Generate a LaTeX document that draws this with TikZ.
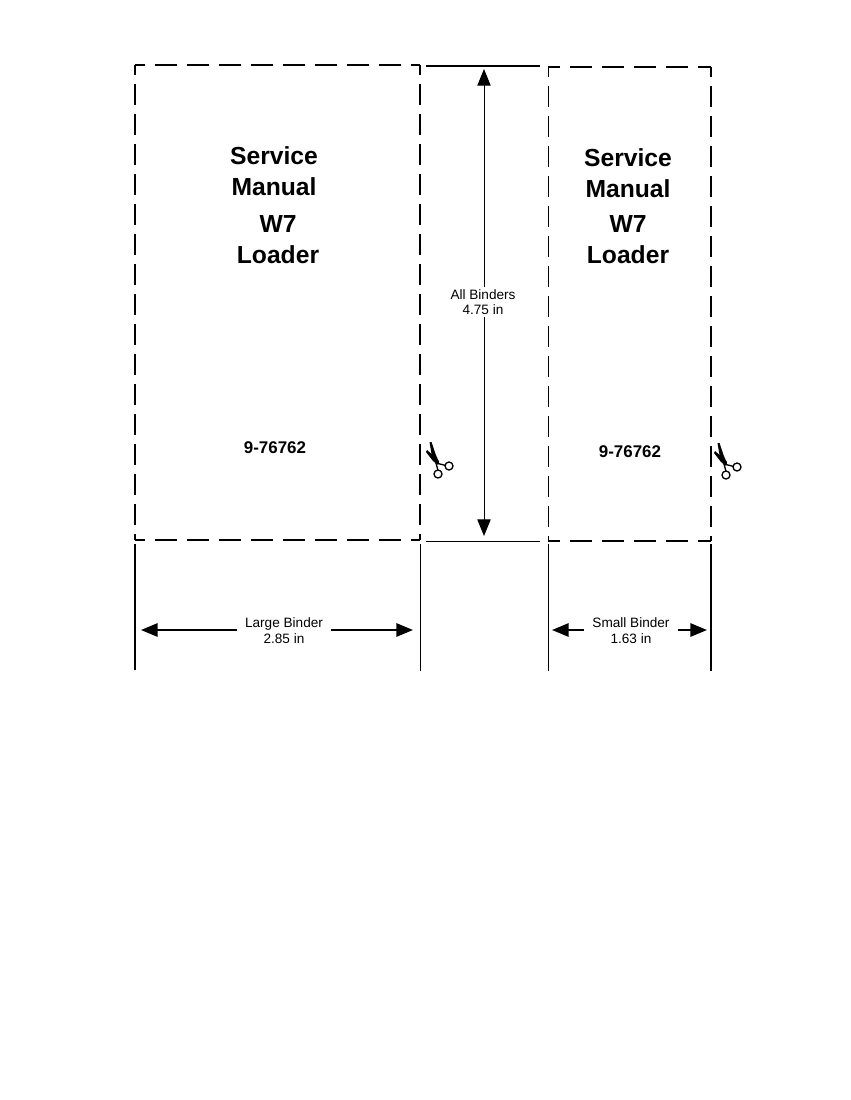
\documentclass[tikz,border=0pt]{standalone}
\usepackage{fontspec}
\setmainfont{Liberation Sans}
\usetikzlibrary{arrows.meta, positioning}
\tikzset{
    title/.style={align=center, font=\fontsize{18.5}{23}\selectfont\bfseries, inner sep=0pt},
    partno/.style={font=\fontsize{12.7}{15}\selectfont\bfseries, inner sep=0pt},
    dimlabel/.style={align=center, font=\fontsize{10.2}{11.6}\selectfont, inner xsep=6pt, inner ysep=1.5pt},
    cutacross/.style={dash pattern=on 16.5pt off 7.5pt},
    cutdown/.style={dash pattern=on 15.75pt off 6.75pt, dash phase=8.25pt},
    guide/.style={line width=0.75pt},
    guidethick/.style={line width=1.5pt},
    dimarrow/.style={line width=1.5pt, -{Stealth[length=12.5pt, width=10pt, inset=0pt]}},
    dimarrowthin/.style={line width=0.75pt, -{Stealth[length=12.5pt, width=10pt, inset=0pt]}},
    scissors/.pic={
        \fill (-6.5,-20) -- (-4.5,-20) -- (-0.5,-8) -- (3,0) -- (2,2.5) -- (-1,1) -- (-4.5,-8) -- cycle;
        \fill (-10,-10) -- (-9,-12) -- (-2,-6) -- (3,-1) -- (2,2.5) -- (-3,-1) -- cycle;
        \draw[line width=1pt] (0,1) -- (10,3.5);
        \draw[line width=1pt] (0,1) -- (2,8.5);
        \draw[line width=1pt] (13,4) circle (3pt);
        \draw[line width=1pt] (2,12) circle (3pt);
    }
}
\begin{document}
\begin{tikzpicture}[x=0.75pt, y=-0.75pt]
    \useasboundingbox (0,0) rectangle (850,1100);

    % Large binder outline
    \draw[cutacross, dash phase=9pt, line width=1.1pt] (135,65) -- (420,65);
    \draw[cutdown, line width=1.5pt] (135,65) -- (135,540);
    \draw[cutdown, line width=1.5pt] (420,65) -- (420,540);
    \draw[cutacross, dash phase=9pt, line width=0.8pt] (135,540) -- (420,540);

    % Small binder outline
    \draw[cutacross, dash phase=7.5pt, line width=1.5pt] (548,67) -- (711,67);
    \draw[cutdown, line width=0.75pt] (548,67) -- (548,541);
    \draw[cutdown, line width=1.1pt] (711,67) -- (711,541);
    \draw[cutacross, dash phase=7.5pt, line width=1.9pt] (548,541) -- (711,541);

    % Top and bottom of the gap
    \draw[guidethick] (426,66) -- (540,66);
    \draw[guide] (426,541) -- (540,541);

    % Guides under the binders
    \draw[guidethick] (135,544) -- (135,670);
    \draw[guide] (420,544) -- (420,671);
    \draw[guide] (548,544) -- (548,671);
    \draw[guidethick] (711,544) -- (711,671);

    % Left panel
    \node[title] (serviceL) at (274,171.5) {Service\\Manual};
    \node[title] (loaderL) at (278,239.5) {W7\\Loader};
    \node[partno] (partL) at (275,448) {9-76762};

    % Right panel
    \node[title] (serviceR) at (628,173) {Service\\Manual};
    \node[title] (loaderR) at (628,239.5) {W7\\Loader};
    \node[partno] (partR) at (630,452) {9-76762};

    % Dimensions
    \node[dimlabel] (allbinders) at (483,302) {All Binders\\4.75 in};
    \node[dimlabel] (largebinder) at (284,630.5) {Large Binder\\2.85 in};
    \node[dimlabel] (smallbinder) at (631,630.5) {Small Binder\\1.63 in};

    \coordinate (alltop) at (484,69);
    \coordinate (allbot) at (484,536);
    \coordinate (largeleft) at (141,630);
    \coordinate (largeright) at (413,630);
    \coordinate (smallleft) at (552,630);
    \coordinate (smallright) at (707,630);

    \draw[dimarrowthin] (allbinders.north -| alltop) -- (alltop);
    \draw[dimarrowthin] (allbinders.south -| allbot) -- (allbot);
    \draw[dimarrow] (largebinder.west |- largeleft) -- (largeleft);
    \draw[dimarrow] (largebinder.east |- largeright) -- (largeright);
    \draw[dimarrow] (smallbinder.west |- smallleft) -- (smallleft);
    \draw[dimarrow] (smallbinder.east |- smallright) -- (smallright);

    % Scissors on the cut lines
    \pic at (436,462) {scissors};
    \pic at (724,463) {scissors};
\end{tikzpicture}
\end{document}
